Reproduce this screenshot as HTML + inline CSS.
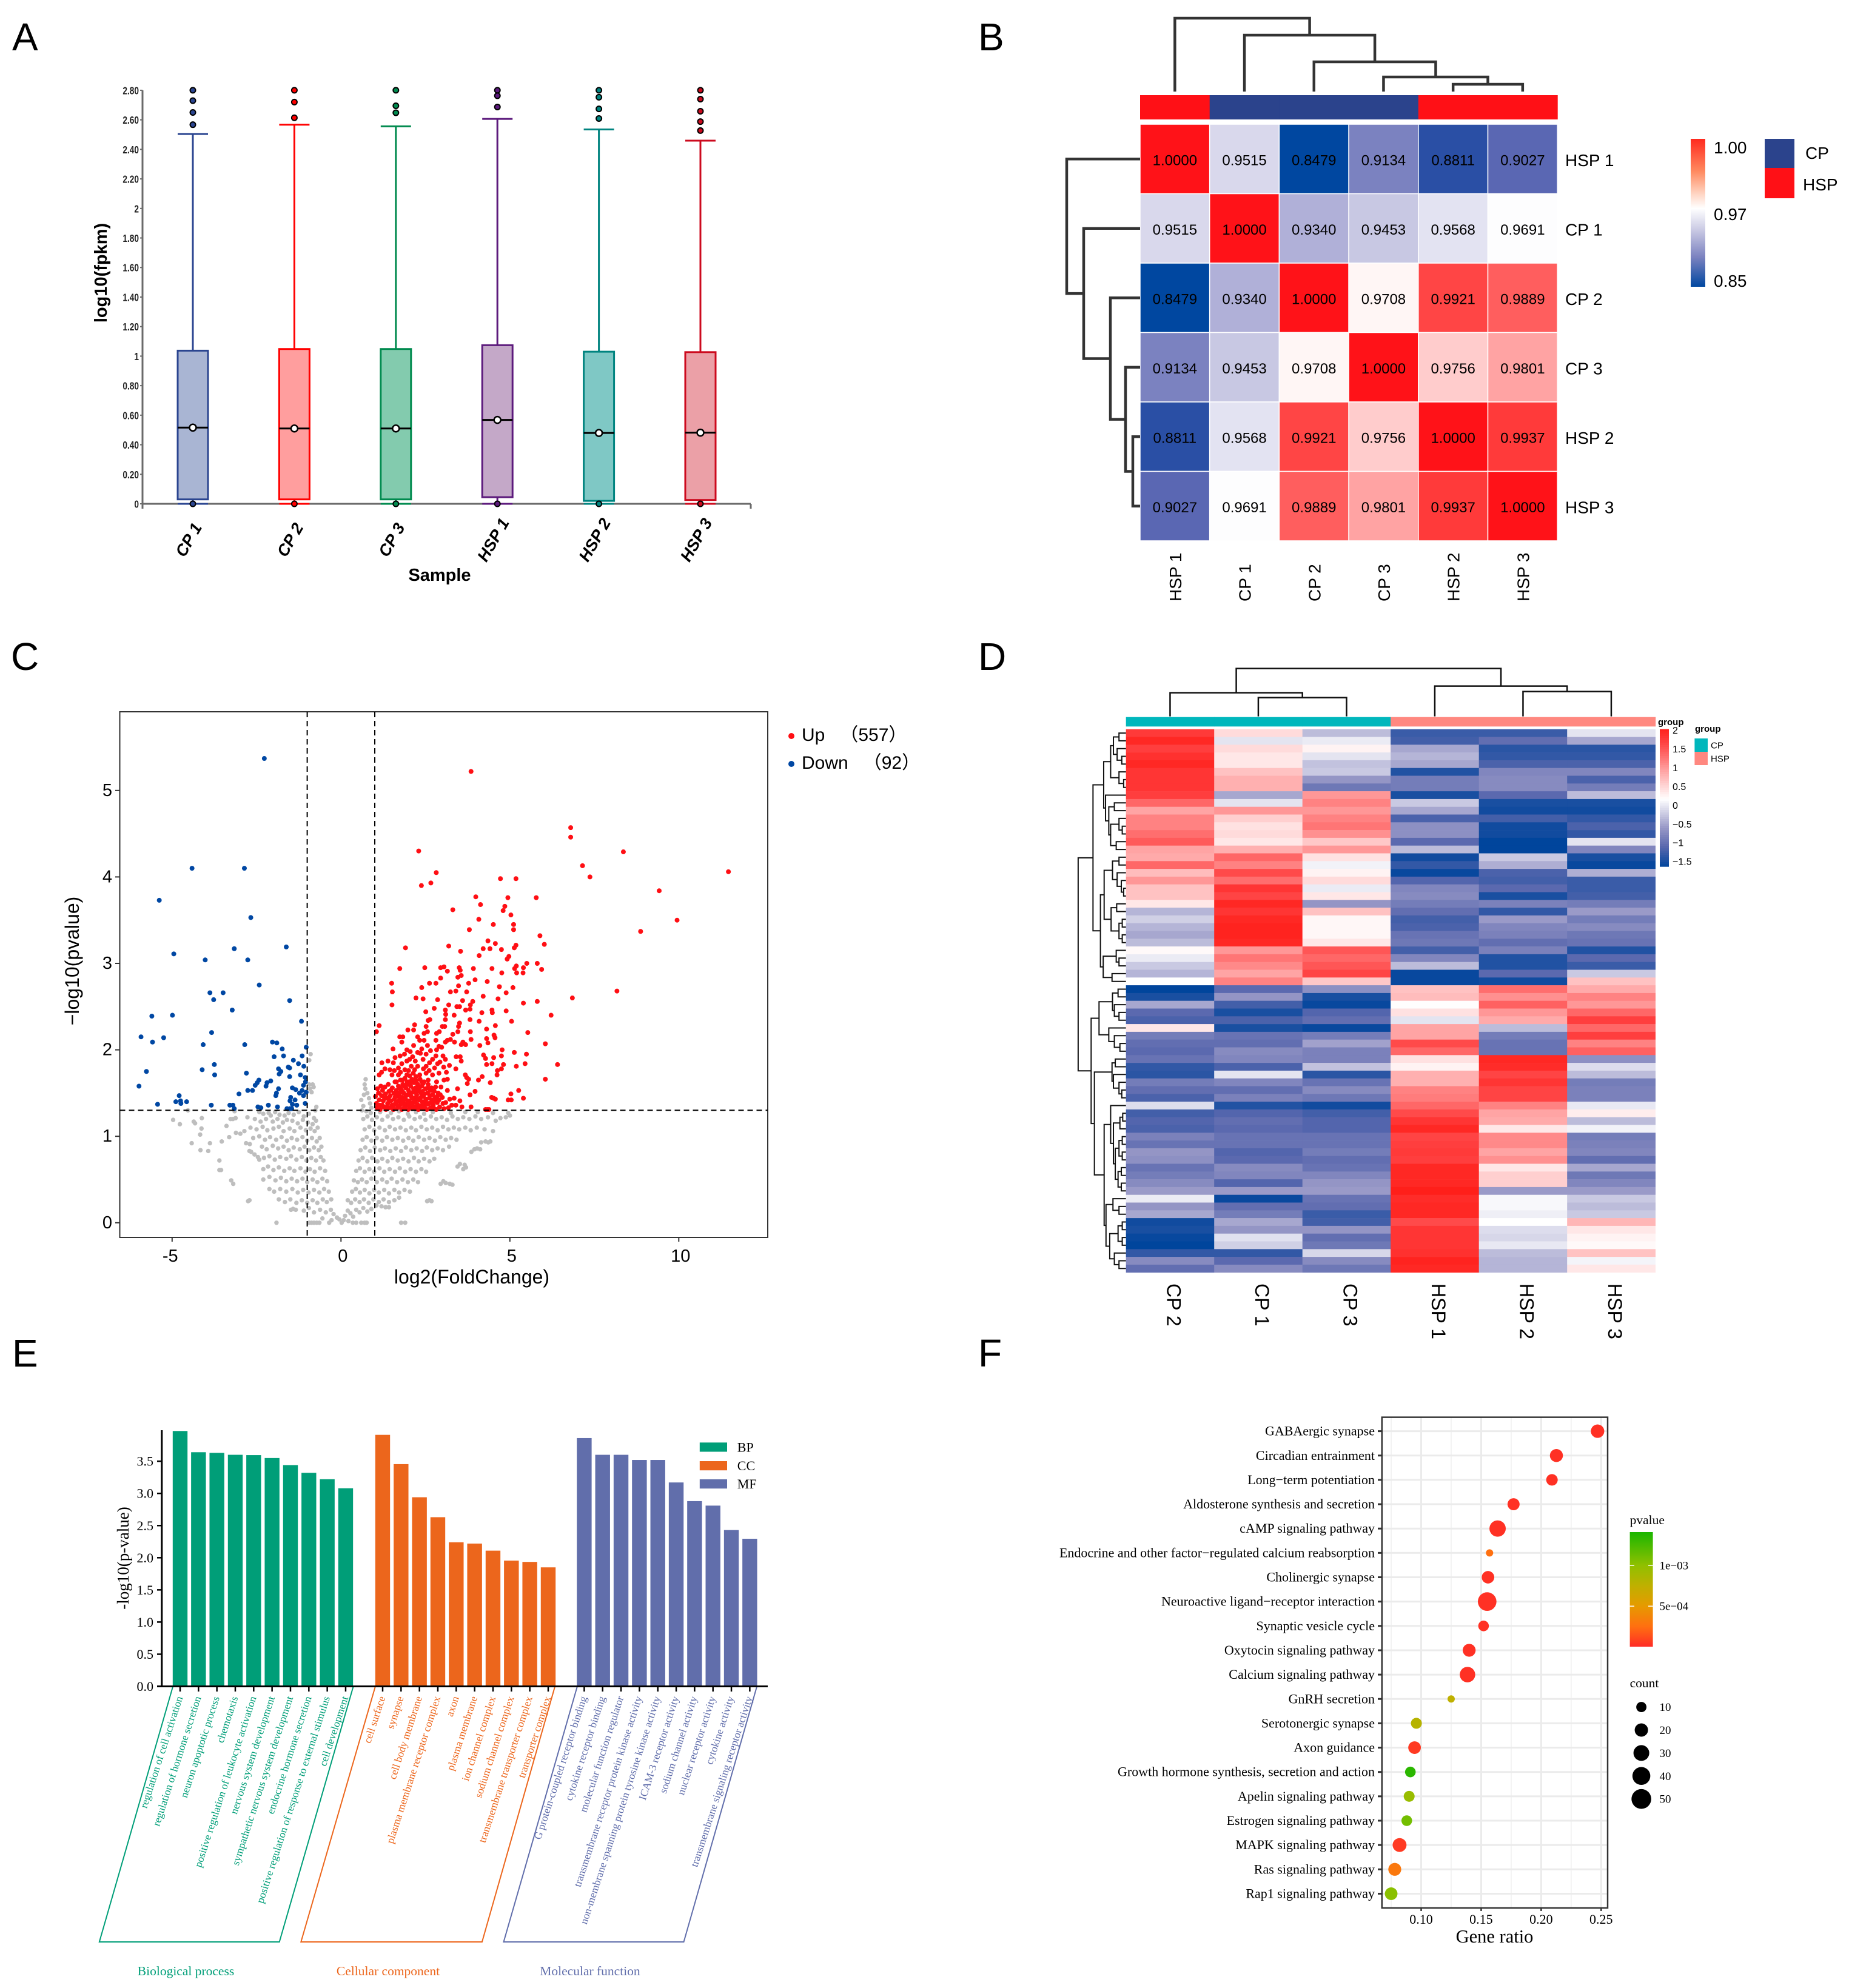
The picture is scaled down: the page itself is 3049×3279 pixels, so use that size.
<!DOCTYPE html>
<html lang="en">
<head>
<meta charset="utf-8">
<title>Multi-panel RNA-seq figure</title>
<style>
html,body{margin:0;padding:0;background:#fff;}
svg{display:block;}
text{font-family:"Liberation Sans",Arial,sans-serif;}
.serif text,text.serif{font-family:"Liberation Serif","Times New Roman",serif;}
</style>
</head>
<body>
<svg id="fig" xmlns="http://www.w3.org/2000/svg" width="3049" height="3279" viewBox="0 0 3049 3279">
<rect x="0" y="0" width="3049" height="3279" fill="#fff"/>
<defs id="defs"></defs>
<text x="20" y="83" font-size="64">A</text>
<text x="1613" y="83" font-size="64">B</text>
<text x="18" y="1105" font-size="64">C</text>
<text x="1613" y="1105" font-size="64">D</text>
<text x="20" y="2254" font-size="64">E</text>
<text x="1613" y="2254" font-size="64">F</text>
<g id="panelA"></g>
<g id="panelB"></g>
<g id="panelC"></g>
<g id="panelD"></g>
<g id="panelE" class="serif"></g>
<g id="panelF" class="serif"></g>
</svg>
<script>
/* ---------- Panel A data ---------- */
const boxSamples=['CP 1','CP 2','CP 3','HSP 1','HSP 2','HSP 3'];
const boxQ1=[0.03,0.03,0.03,0.045,0.02,0.026];
const boxMedian=[0.516,0.51,0.51,0.568,0.48,0.482];
const boxQ3=[1.037,1.048,1.048,1.074,1.03,1.027];
const boxWhiskerTop=[2.504,2.567,2.556,2.606,2.535,2.459];
const boxOutliers=[[2.8,2.73,2.65,2.567],[2.8,2.72,2.614],[2.8,2.695,2.648],[2.8,2.763,2.687],[2.8,2.753,2.674,2.609],[2.8,2.74,2.658,2.588,2.527]];
const boxStroke=['#2b4590','#ff0000','#008a4e','#5c1a7c','#00837f','#cc0a1e'];
const boxFill=['#a9b5d3','#ff9e9e','#83cbae','#c4a8c8','#7fc8c5','#eba0a7'];
const boxTickValues=[0,0.2,0.4,0.6,0.8,1,1.2,1.4,1.6,1.8,2,2.2,2.4,2.6,2.8];
const boxTickLabels=['0','0.20','0.40','0.60','0.80','1','1.20','1.40','1.60','1.80','2','2.20','2.40','2.60','2.80'];

/* ---------- Panel B data ---------- */
const corrLabels=['HSP 1','CP 1','CP 2','CP 3','HSP 2','HSP 3'];
const corrGroups=['HSP','CP','CP','CP','HSP','HSP'];
const corrMatrix=[
[1.0000,0.9515,0.8479,0.9134,0.8811,0.9027],
[0.9515,1.0000,0.9340,0.9453,0.9568,0.9691],
[0.8479,0.9340,1.0000,0.9708,0.9921,0.9889],
[0.9134,0.9453,0.9708,1.0000,0.9756,0.9801],
[0.8811,0.9568,0.9921,0.9756,1.0000,0.9937],
[0.9027,0.9691,0.9889,0.9801,0.9937,1.0000]];
const corrTree=[121,1,[93,1,[49,1,[24,1,[12,1,1]]]]];
const corrScale=[[0.8479,'#0047a0'],[0.8811,'#2a4fa5'],[0.9027,'#5a67b3'],[0.9134,'#7b82c0'],[0.934,'#b0b0d8'],[0.9453,'#c8c8e3'],[0.9515,'#d9d8ec'],[0.9568,'#e3e3f2'],[0.9691,'#fdfdfe'],[0.9708,'#fff6f5'],[0.9756,'#ffcccc'],[0.9801,'#ffa3a3'],[0.9889,'#ff5e5e'],[0.9921,'#ff4545'],[0.9937,'#ff3a3a'],[1,'#ff1218']];

/* ---------- Panel C data ---------- */
const volcanoXTicks=[-5,0,5,10];
const volcanoYTicks=[0,1,2,3,4,5];
const volcanoDown=[[-2.27,5.37],[-4.41,4.10],[-2.86,4.10],[-5.38,3.73],[-2.67,3.53],[-1.62,3.19],[-3.16,3.17],[-4.95,3.11],[-4.02,3.04],[-2.76,3.04],[-2.42,2.75],[-3.88,2.66],[-3.49,2.66],[-3.77,2.58],[-1.52,2.57],[-3.22,2.46],[-5.6,2.39],[-4.99,2.40],[-1.17,2.33],[-5.92,2.15],[-5.25,2.14],[-5.58,2.09],[-3.83,2.20],[-4.08,2.06],[-2.85,2.06],[-2.03,2.09],[-1.9,2.08],[-1.74,2.01],[-1.03,2.03],[-1.15,1.93],[-1.98,1.92],[-1.7,1.93],[-1.41,1.88],[-1.26,1.84],[-1.1,1.81],[-3.75,1.83],[-4.11,1.77],[-5.76,1.75],[-3.74,1.71],[-2.8,1.73],[-1.85,1.78],[-1.78,1.75],[-1.83,1.72],[-1.56,1.8],[-1.52,1.79],[-1.52,1.69],[-1.2,1.71],[-1.06,1.68],[-2.43,1.65],[-2.48,1.62],[-2.54,1.59],[-2.08,1.64],[-2.19,1.62],[-2.22,1.58],[-5.98,1.58],[-2.76,1.53],[-2.62,1.53],[-1.85,1.55],[-1.44,1.56],[-1.34,1.54],[-1.11,1.59],[-1.05,1.63],[-1.15,1.53],[-1.91,1.50],[-1.93,1.47],[-3.02,1.49],[-4.79,1.47],[-4.89,1.40],[-4.75,1.41],[-4.74,1.38],[-4.57,1.40],[-1.49,1.45],[-1.51,1.41],[-1.36,1.42],[-1.23,1.50],[-1.11,1.47],[-1.03,1.51],[-1.44,1.37],[-1.31,1.36],[-1.06,1.38],[-5.43,1.37],[-3.84,1.36],[-3.29,1.36],[-3.2,1.36],[-3.16,1.32],[-2.46,1.34],[-2.37,1.33],[-2.15,1.36],[-1.88,1.34],[-1.6,1.32],[-1.51,1.32],[-1.46,1.32]];
const volcanoUp=[[3.85,5.22],[6.8,4.57],[6.8,4.46],[8.36,4.29],[2.3,4.30],[2.82,4.05],[7.15,4.13],[7.37,4.0],[11.47,4.06],[4.72,3.98],[5.18,3.98],[2.38,3.9],[2.66,3.93],[3.99,3.77],[4.94,3.76],[5.78,3.76],[9.42,3.84],[4.13,3.68],[3.31,3.62],[4.85,3.66],[4.8,3.61],[5.03,3.56],[4.08,3.51],[4.51,3.45],[5.11,3.45],[5.11,3.39],[9.95,3.50],[3.8,3.39],[8.87,3.37],[5.89,3.32],[4.35,3.26],[4.57,3.23],[6.02,3.22],[3.19,3.2],[5.18,3.21],[5.13,3.18],[1.91,3.18],[4.21,3.17],[4.41,3.17],[4.75,3.16],[3.54,3.14],[4.09,3.09],[4.97,3.08],[4.92,3.05],[5.5,3.0],[5.81,3.0],[5.19,2.97],[5.14,2.94],[2.95,2.95],[3.05,2.96],[2.48,2.95],[1.74,2.94],[3.5,2.95],[3.53,2.92],[3.92,2.94],[4.47,2.94],[5.4,2.95],[5.94,2.93],[3.15,2.91],[5.2,2.89],[5.39,2.89],[4.76,2.89],[3.56,2.86],[3.46,2.84],[2.95,2.83],[3.97,2.81],[3.78,2.77],[4.33,2.79],[2.81,2.77],[2.62,2.77],[1.5,2.77],[3.48,2.74],[2.39,2.72],[4.69,2.73],[5.09,2.72],[1.52,2.67],[3.4,2.68],[3.24,2.67],[3.72,2.67],[4.89,2.66],[8.17,2.68],[6.85,2.6],[4.21,2.62],[2.22,2.6],[2.43,2.59],[4.65,2.59],[2.86,2.58],[3.6,2.57],[3.9,2.56],[5.4,2.54],[5.81,2.56],[1.51,2.52],[3.19,2.52],[3.83,2.52],[2.76,2.48],[3.43,2.5],[3.51,2.5],[3.82,2.47],[3.09,2.46],[3.69,2.46],[4.47,2.46],[4.89,2.45],[2.51,2.44],[3.1,2.41],[4.17,2.43],[4.48,2.43],[6.22,2.4],[3.35,2.4],[3.82,2.35],[2.63,2.35],[2.58,2.34],[3.09,2.35],[4.09,2.33],[5.05,2.33],[1.13,2.28],[2.18,2.29],[2.52,2.27],[3.51,2.31],[3.48,2.27],[3.0,2.27],[3.07,2.27],[4.57,2.28],[1.05,2.21],
[6.05,2.07],[6.41,1.83],[6.05,1.66],[5.53,2.2],[5.49,1.95],[5.45,1.84],[5.19,1.81],[5.13,1.97],[4.77,2.0],[4.75,1.93],[4.52,1.91],[4.22,1.94],[4.28,1.9],[4.31,1.83],[4.47,1.84],[4.81,1.83],[4.75,1.78],[4.63,1.76],[4.62,1.71],[4.42,1.62],[4.18,1.69],[4.07,1.65],[3.78,1.66],[3.68,1.71],[3.72,1.68],[3.74,1.61],[3.97,1.52],[3.82,1.48],[5.26,1.53],[5.03,1.49],[4.95,1.42],[5.4,1.44],[5.04,1.42],[4.46,1.45],[4.52,1.44],[4.57,1.43],[3.85,1.34],[4.28,1.31],[4.38,1.31],[4.33,1.31],[4.31,2.24],[4.53,2.17],[4.56,2.14],[4.31,2.13],[4.11,2.05],[4.35,2.08],[3.83,2.21],[3.85,2.12],[3.69,2.06],[3.56,2.06],[3.61,2.09],[3.53,1.92],[3.41,1.92],[3.56,1.87],[3.4,1.78],[3.21,1.82],[3.04,1.8],[3.36,2.09],[3.31,2.18],[3.46,2.21],[3.24,2.12],[3.15,2.11],[3.09,2.09],[2.98,2.03],[2.9,2.04],[2.83,2.0],[2.81,2.11],[2.83,2.19],[2.91,2.21],[2.56,2.21],[2.46,2.19],[2.27,2.15],[1.98,2.23],[2.15,2.23],[1.83,2.15],[1.74,2.15],[1.8,2.09],[1.54,2.01],[1.6,1.91],[1.75,1.93],[1.95,2.0],[2.05,1.98],[2.15,2.05],[2.33,2.11],[2.46,2.11],[2.56,2.05],[2.65,1.99],[2.39,2.01],[2.27,1.97],[2.52,1.95],[2.81,1.93],[3.02,1.93],[2.71,1.89],[2.93,1.86],[3.09,1.89],[2.43,1.89],[2.2,1.87],[1.95,1.87],[1.8,1.84],[1.39,1.87],[1.21,1.85],[1.55,1.85],[1.45,1.77],[1.3,1.78],[1.2,1.74],[1.13,1.71],[1.7,1.79],[1.89,1.77],[2.08,1.81],[2.27,1.81],[2.52,1.81],[2.77,1.79],[2.9,1.73],[2.71,1.71],[2.52,1.73],[2.33,1.71],[2.14,1.73],[1.95,1.71],[1.7,1.71],[1.51,1.71],[3.05,1.65],[3.15,1.66],[2.83,1.63],[2.58,1.65],[2.39,1.63],[2.2,1.65],[2.01,1.63],[1.82,1.65],[1.64,1.63],[2.62,1.85],[2.12,1.92],[1.88,1.95],[2.03,1.89],[2.35,1.96],[2.61,1.76],[2.44,1.78],[2.18,1.77],[2.0,1.76],[1.76,1.74],[1.58,1.76],[2.86,1.84],[3.12,1.74],
[1.02,1.46],[1.05,1.38],[1.07,1.33],[1.08,1.55],[1.11,1.5],[1.13,1.42],[1.15,1.36],[1.16,1.31],[1.18,1.58],[1.2,1.47],[1.23,1.53],[1.25,1.41],[1.27,1.34],[1.3,1.57],[1.32,1.49],[1.33,1.31],[1.36,1.44],[1.38,1.38],[1.4,1.6],[1.42,1.52],[1.44,1.33],[1.46,1.47],[1.48,1.41],[1.51,1.36],[1.52,1.56],[1.55,1.31],[1.57,1.5],[1.58,1.43],[1.6,1.63],[1.62,1.38],[1.64,1.53],[1.66,1.46],[1.67,1.33],[1.7,1.58],[1.72,1.41],[1.73,1.49],[1.75,1.36],[1.76,1.65],[1.78,1.54],[1.8,1.31],[1.81,1.45],[1.83,1.6],[1.84,1.39],[1.86,1.5],[1.88,1.34],[1.89,1.67],[1.91,1.43],[1.92,1.56],[1.94,1.37],[1.96,1.63],[1.97,1.48],[1.99,1.31],[2.0,1.53],[2.02,1.41],[2.03,1.7],[2.05,1.35],[2.06,1.58],[2.08,1.46],[2.1,1.66],[2.11,1.32],[2.13,1.51],[2.14,1.39],[2.16,1.62],[2.18,1.44],[2.19,1.34],[2.21,1.56],[2.22,1.69],[2.24,1.48],[2.26,1.37],[2.27,1.6],[2.29,1.31],[2.3,1.53],[2.32,1.42],[2.34,1.66],[2.35,1.35],[2.37,1.5],[2.39,1.58],[2.4,1.4],[2.42,1.32],[2.44,1.46],[2.46,1.63],[2.48,1.36],[2.5,1.55],[2.52,1.43],[2.54,1.31],[2.56,1.5],[2.58,1.6],[2.6,1.38],[2.63,1.47],[2.65,1.33],[2.68,1.56],[2.7,1.42],[2.73,1.36],[2.76,1.52],[2.79,1.44],[2.82,1.31],[2.85,1.39],[2.88,1.5],[2.92,1.34],[2.96,1.57],[3.0,1.45],[3.05,1.32],[3.1,1.39],[3.15,1.53],[3.22,1.43],[3.28,1.36],[3.35,1.44],[3.4,1.36],[3.45,1.55],[3.52,1.41],[3.58,1.34],
[1.1,1.34],[1.22,1.36],[1.29,1.44],[1.35,1.34],[1.41,1.43],[1.47,1.53],[1.53,1.33],[1.59,1.37],[1.61,1.46],[1.65,1.4],[1.69,1.5],[1.71,1.35],[1.74,1.56],[1.77,1.44],[1.79,1.38],[1.82,1.52],[1.85,1.42],[1.87,1.58],[1.9,1.33],[1.93,1.47],[1.95,1.6],[1.98,1.4],[2.01,1.36],[2.04,1.49],[2.07,1.62],[2.09,1.37],[2.12,1.44],[2.15,1.55],[2.17,1.33],[2.2,1.41],[2.23,1.64],[2.25,1.52],[2.28,1.43],[2.31,1.35],[2.33,1.57],[2.36,1.45],[2.38,1.33],[2.41,1.52],[2.43,1.61],[2.45,1.38],[2.47,1.49],[2.49,1.32],[2.51,1.42],[2.55,1.37],[2.57,1.56],[2.61,1.44],[2.64,1.53],[2.67,1.39],[2.71,1.48],[2.74,1.33],[2.77,1.41],[2.8,1.57],[2.84,1.46],[2.9,1.42],[2.94,1.48],[3.02,1.38],[3.18,1.33]];
const volcanoNS=[[-0.94,1.88],[-0.9,1.95],[-0.84,1.6],[-0.94,1.6],[-0.81,1.57],[-0.92,1.55],[-0.87,1.51],[-0.73,1.34],[-0.76,1.3],[-4.53,1.3],[-4.97,1.19],[-4.77,1.14],[-4.36,1.17],[-4.32,1.15],[-4.12,1.21],[-4.13,1.09],[-4.17,1.02],[-4.42,0.92],[-4.16,0.84],[-3.93,0.83],[-3.88,0.92],[-3.53,0.94],[-3.31,0.99],[-3.39,1.12],[-3.27,1.2],[-3.2,1.2],[-3.12,1.21],[-3.11,1.04],[-2.98,1.03],[-2.86,1.06],[-2.77,1.22],[-2.81,0.92],[-2.7,0.91],[-2.71,0.83],[-2.66,0.82],[-2.56,0.79],[-2.46,0.76],[-2.42,0.73],[-3.6,0.72],[-3.6,0.61],[-3.55,0.61],[-3.25,0.49],[-3.19,0.45],[-2.75,0.25],[-2.71,0.26],[-1.91,0],
[-3.15,1.29],[-2.42,1.28],[-2.3,1.26],[-2.14,1.27],[-2.08,1.24],[-1.95,1.28],[-1.82,1.25],[-1.67,1.24],[-1.55,1.27],[-1.4,1.25],[-1.25,1.28],[-1.1,1.23],[-0.95,1.26],[-0.8,1.21],
[-2.55,1.2],[-2.38,1.17],[-2.22,1.2],[-2.02,1.17],[-1.88,1.2],[-1.72,1.16],[-1.6,1.19],[-1.44,1.18],[-1.28,1.15],[-1.13,1.19],[-0.98,1.16],[-0.84,1.14],[-0.74,1.18],
[-2.68,1.1],[-2.5,1.08],[-2.32,1.11],[-2.18,1.07],[-2.0,1.09],[-1.84,1.11],[-1.7,1.06],[-1.52,1.09],[-1.38,1.06],[-1.2,1.1],[-1.04,1.07],[-0.9,1.09],[-0.78,1.06],[-0.69,1.1],
[-2.6,0.98],[-2.42,1.0],[-2.25,0.96],[-2.1,0.99],[-1.92,0.96],[-1.76,0.99],[-1.6,0.95],[-1.46,0.98],[-1.3,0.96],[-1.14,0.99],[-1.0,0.95],[-0.86,0.98],[-0.72,0.94],[-0.63,0.98],
[-2.34,0.88],[-2.2,0.85],[-2.02,0.89],[-1.86,0.86],[-1.7,0.88],[-1.55,0.84],[-1.4,0.87],[-1.22,0.85],[-1.08,0.88],[-0.94,0.84],[-0.8,0.87],[-0.66,0.84],[-0.58,0.88],
[-2.28,0.75],[-2.12,0.77],[-1.96,0.73],[-1.8,0.76],[-1.62,0.74],[-1.48,0.77],[-1.32,0.73],[-1.16,0.76],[-1.02,0.72],[-0.88,0.75],[-0.74,0.72],[-0.6,0.76],[-0.52,0.72],
[-2.3,0.62],[-2.16,0.65],[-2.0,0.61],[-1.84,0.64],[-1.68,0.6],[-1.52,0.63],[-1.38,0.6],[-1.2,0.63],[-1.05,0.59],[-0.92,0.62],[-0.78,0.59],[-0.62,0.63],[-0.47,0.6],
[-2.3,0.5],[-2.12,0.53],[-1.94,0.49],[-1.78,0.52],[-1.62,0.48],[-1.46,0.51],[-1.3,0.48],[-1.14,0.51],[-1.0,0.47],[-0.84,0.5],[-0.7,0.47],[-0.55,0.51],[-0.41,0.48],
[-2.12,0.39],[-1.98,0.36],[-1.8,0.39],[-1.62,0.36],[-1.44,0.39],[-1.28,0.35],[-1.12,0.38],[-0.96,0.35],[-0.8,0.38],[-0.64,0.35],[-0.5,0.39],[-0.36,0.36],
[-1.84,0.27],[-1.66,0.24],[-1.5,0.27],[-1.32,0.23],[-1.16,0.26],[-1.0,0.23],[-0.84,0.26],[-0.7,0.23],[-0.54,0.27],[-0.42,0.24],[-0.29,0.27],
[-1.48,0.15],[-1.42,0.16],[-1.34,0.15],[-1.1,0.14],[-0.95,0.17],[-0.8,0.12],[-0.62,0.15],[-0.45,0.12],[-0.3,0.15],[-0.22,0.1],[-0.12,0.06],[-0.05,0.04],
[-0.94,0],[-0.87,0],[-0.8,0],[-0.72,0],[-0.64,0],[-0.35,0],[-0.55,0.05],[-0.28,0.03],[0.02,0],[0.08,0.03],[0.22,0.02],[0.35,0],[0.45,0],[0.6,0],[0.7,0],[0.76,0],[1.78,0],[1.9,0],
[0.12,0.08],[0.2,0.14],[0.28,0.11],[0.36,0.07],[0.45,0.15],[0.55,0.12],[0.66,0.17],[0.78,0.13],[0.9,0.16],[1.05,0.2],[1.2,0.19],[1.32,0.18],[1.42,0.18],
[0.2,0.26],[0.3,0.23],[0.42,0.27],[0.55,0.24],[0.68,0.27],[0.82,0.23],[0.96,0.27],[1.12,0.24],[1.26,0.27],[1.42,0.24],[1.58,0.26],[1.72,0.29],[2.55,0.25],[2.62,0.26],[2.68,0.25],
[0.33,0.36],[0.44,0.39],[0.56,0.35],[0.7,0.38],[0.84,0.34],[0.98,0.38],[1.12,0.35],[1.28,0.38],[1.42,0.34],[1.58,0.38],[1.72,0.35],[1.88,0.38],[2.04,0.36],
[0.38,0.49],[0.5,0.47],[0.62,0.5],[0.76,0.47],[0.9,0.51],[1.06,0.47],[1.22,0.5],[1.36,0.47],[1.5,0.51],[1.66,0.47],[1.82,0.5],[1.98,0.47],[2.14,0.5],[2.28,0.47],[2.95,0.45],[3.03,0.48],[3.1,0.46],[3.22,0.45],[3.3,0.44],
[0.45,0.6],[0.56,0.63],[0.7,0.59],[0.84,0.62],[0.98,0.59],[1.14,0.63],[1.28,0.59],[1.44,0.62],[1.6,0.59],[1.74,0.63],[1.9,0.59],[2.06,0.62],[2.22,0.59],[2.38,0.62],[2.52,0.59],
[0.52,0.72],[0.64,0.75],[0.78,0.71],[0.92,0.75],[1.08,0.71],[1.22,0.74],[1.38,0.71],[1.52,0.75],[1.68,0.72],[1.84,0.74],[2.0,0.71],[2.16,0.75],[2.3,0.71],[2.46,0.74],[2.62,0.71],[2.76,0.74],[3.45,0.65],[3.52,0.68],[3.62,0.62],[3.66,0.67],[3.7,0.64],
[0.58,0.84],[0.72,0.87],[0.86,0.83],[1.0,0.87],[1.16,0.84],[1.3,0.86],[1.46,0.83],[1.62,0.86],[1.78,0.83],[1.92,0.87],[2.08,0.84],[2.24,0.86],[2.4,0.83],[2.54,0.87],[2.7,0.84],[2.86,0.86],[3.02,0.84],[3.2,0.88],[3.86,0.82],[3.95,0.85],[4.03,0.86],[4.12,0.85],
[0.64,0.96],[0.76,0.99],[0.9,0.95],[1.06,0.98],[1.22,0.95],[1.36,0.99],[1.52,0.96],[1.68,0.98],[1.84,0.95],[2.0,0.98],[2.14,0.95],[2.3,0.99],[2.46,0.96],[2.62,0.98],[2.78,0.95],[2.94,0.99],[3.1,0.96],[3.26,0.98],[3.42,0.96],[4.15,0.93],[4.28,0.94],[4.36,0.93],[4.42,0.94],
[0.7,1.08],[0.84,1.11],[0.98,1.07],[1.14,1.1],[1.3,1.07],[1.44,1.11],[1.6,1.08],[1.76,1.1],[1.92,1.07],[2.08,1.1],[2.22,1.07],[2.38,1.11],[2.54,1.08],[2.7,1.1],[2.86,1.07],[3.02,1.11],[3.18,1.08],[3.34,1.1],[3.5,1.08],[3.68,1.1],[3.84,1.07],[4.02,1.1],[4.25,1.08],[4.5,1.06],
[0.66,1.2],[0.78,1.23],[0.92,1.19],[1.06,1.22],[1.22,1.19],[1.38,1.23],[1.54,1.2],[1.7,1.22],[1.86,1.19],[2.02,1.23],[2.18,1.2],[2.34,1.22],[2.5,1.19],[2.66,1.23],[2.82,1.2],[2.98,1.22],[3.14,1.19],[3.3,1.23],[3.46,1.2],[3.62,1.22],[3.8,1.2],[3.98,1.23],[4.15,1.2],[4.35,1.22],[4.58,1.18],[4.72,1.21],[4.88,1.22],
[0.75,1.29],[0.88,1.27],[1.16,1.28],[1.48,1.27],[1.72,1.29],[1.98,1.26],[2.22,1.28],[2.46,1.26],[2.72,1.28],[3.25,1.27],[3.68,1.28],[4.05,1.28],[4.5,1.27],[4.95,1.27],[5.0,1.24],
[0.62,1.3],[0.66,1.35],[0.6,1.42],[0.68,1.48],[0.72,1.55],[0.7,1.6],[0.73,1.66],[0.78,1.5],[0.83,1.44],[0.86,1.38],[0.9,1.33]];

/* ---------- Panel D data ---------- */
const geneSamples=['CP 2','CP 1','CP 3','HSP 1','HSP 2','HSP 3'];
const geneGroups=['CP','CP','CP','HSP','HSP','HSP'];
const geneZ=[
[1.8,.5,-.3,-1.25,-1.25,0],[2.0,0,.05,-1.2,-1.0,-.45],[1.75,.5,.3,-.45,-1.35,-1.35],[1.9,.4,0,-.35,-1.3,-1.3],[2.0,.4,-.25,-.45,-1.15,-1.15],[1.85,.7,-.2,-1.4,-.75,-.75],[1.85,.85,-.6,-.85,-.7,-1.15],[1.85,.85,-.9,-.85,-.7,-.85],[1.75,-.45,1.05,-1.45,-1.05,-.3],[1.4,0,1.2,-.2,-1.45,-1.45],
[.95,1.05,1.05,-.45,-1.5,-1.5],[1.2,.6,1.2,-1.15,-1.2,-1.3],[1.2,.45,1.3,-.65,-1.5,-1.15],[1.35,.5,1.1,-.65,-1.5,-1.3],[1.5,.4,.65,-1.05,-1.6,0],[.95,.85,1.05,-.3,-1.6,-.75],[.9,1.4,.45,-1.5,-.2,-1.45],[1.4,1.2,.1,-1.3,-.4,-1.55],[.75,1.65,.3,-1.55,-1.15,-.4],[1.05,1.35,.5,-1.1,-1.2,-1.25],
[.7,1.85,.05,-.75,-1.05,-1.25],[.7,1.7,.4,-.7,-1.45,-1.2],[.4,2.0,-.6,-.85,-.8,-.85],[-.35,1.85,.7,-1.0,-1.3,-.55],[-.15,2.0,.27,-1.2,-.55,-.85],[-.35,2.05,.27,-1.15,-.75,-.7],[-.45,2.05,.27,-.95,-.8,-.9],[-.3,2.0,.4,-.9,-1.0,-.95],[.25,1.05,1.55,-1.2,-.8,-1.4],[.05,1.3,1.4,-.75,-1.4,-1.05],
[-.2,1.15,1.55,-.3,-1.4,-1.25],[-.35,.95,1.7,-1.55,-1.05,-.2],[.2,1.2,.65,-1.55,-1.5,.7],[-1.6,-1.05,-.65,.7,1.35,.9],[-1.45,-.6,-1.45,.75,1.1,1.2],[-.45,-1.2,-1.55,.22,1.45,1.05],[-1.05,-1.45,-1.1,.45,1.05,1.4],[-1.15,-1.15,-1.0,0,.9,1.75],[.4,-1.45,-1.55,.95,-.3,1.4],[-.85,-.95,-.85,.95,-.85,1.75],
[-1.0,-1.0,-.5,1.65,-.95,1.2],[-1.05,-.7,-.8,1.4,-.95,1.45],[-.95,-.75,-.8,.45,2.0,-.65],[-1.3,-1.15,-.25,.3,1.95,-.05],[-1.35,0,-1.35,.85,1.7,-.3],[-.85,-.75,-.95,.85,1.85,-.85],[-1.0,-1.0,-.7,1.2,1.7,-.8],[-1.15,-.8,-.9,1.25,1.7,-.8],[-.05,-1.4,-1.5,1.4,1.2,.03],[-1.2,-1.1,-1.2,1.65,.95,.35],
[-1.1,-1.0,-1.1,1.85,.9,-.3],[-1.15,-1.05,-1.1,2.0,.4,.1],[-.8,-.95,-.95,1.7,1.15,-.85],[-.95,-.95,-.95,1.75,1.15,-.8],[-.6,-1.1,-.85,1.8,.95,-.75],[-.65,-1.05,-1.0,1.75,1.1,-1.0],[-.95,-.7,-.95,2.0,.4,-.45],[-.85,-.75,-.75,2.0,.6,-.9],[-.7,-1.1,-.6,2.0,.6,-.75],[-.55,-.55,-.55,2.1,-.55,-.55],
[.05,-1.55,-.95,1.95,.15,-.2],[-.6,-1.0,-1.0,2.0,.15,-.3],[-.45,-.85,-1.25,2.0,.08,-.2],[-1.5,-.45,-1.2,1.65,.2,.8],[-1.45,-.6,-.6,1.85,-.05,.4],[-1.55,-.02,-1.0,1.85,-.1,.3],[-1.6,-.15,-.9,1.85,.03,.25],[-1.3,-1.3,-.1,1.9,-.3,.7],[-.7,-1.05,-.7,2.05,-.35,.12],[-1.0,-.7,-.9,2.0,-.35,.4]];
const geneColTree=[79,[39,1,[31,1,1]],[50,1,[41,1,1]]];
const geneRowTree=[103,
 [71,
  [48,[33,[27,[15,1,1],[19,1,[9,1,1]]],[15,1,[5,1,1]]],[44,1,[37,[25,1,1],[33,[15,1,[8,1,1]],[21,1,1]]]]],
  [55,[47,[29,[15,1,1],[19,1,[10,1,[5,1,1]]]],[32,[20,1,1],[15,[8,1,1],[8,1,1]]]],[49,[21,1,[15,1,1]],[30,1,1]]]],
 [75,
  [58,[29,[17,1,1],[25,1,[15,1,1]]],[37,1,[25,1,[13,1,1]]]],
  [68,[30,[23,1,1],[27,1,[15,1,[9,1,1]]]],
   [47,[33,1,[27,[13,[7,1,1],1],[23,[15,[8,1,1],[8,1,1]],[17,[10,1,1],[10,1,1]]]]],
       [43,[28,1,[15,1,1]],[35,[17,[8,1,1],[8,1,1]],[25,1,[15,1,1]]]]]]]];
const geneScale=[[-1.6,'#00459c'],[-1.06,'#5a68ae'],[-.55,'#9a9ac8'],[.2,'#ffffff'],[1.0,'#ff9e9e'],[1.37,'#ff6b6b'],[1.73,'#ff4040'],[2.1,'#ff1f1a']];
const geneBarLabels=['2','1.5','1','0.5','0','−0.5','−1','−1.5'];
const geneBarValues=[2,1.5,1,0.5,0,-0.5,-1,-1.5];

/* ---------- Panel E data ---------- */
const goBP=[3.97,3.64,3.63,3.60,3.595,3.55,3.44,3.32,3.22,3.08];
const goCC=[3.91,3.455,2.94,2.63,2.24,2.22,2.11,1.955,1.935,1.85];
const goMF=[3.86,3.60,3.60,3.52,3.52,3.17,2.88,2.81,2.43,2.295];
const goBPTerms=['regulation of cell activation','regulation of hormone secretion','neuron apoptotic process','chemotaxis','positive regulation of leukocyte activation','nervous system development','sympathetic nervous system development','endocrine hormone secretion','positive regulation of response to external stimulus','cell development'];
const goCCTerms=['cell surface','synapse','cell body membrane','plasma membrane receptor complex','axon','plasma membrane','ion channel complex','sodium channel complex','transmembrane transporter complex','transporter complex'];
const goMFTerms=['G protein-coupled receptor binding','cytokine receptor binding','molecular function regulator','transmembrane receptor protein kinase activity','non-membrane spanning protein tyrosine kinase activity','ICAM-3 receptor activity','sodium channel activity','nuclear receptor activity','cytokine activity','transmembrane signaling receptor activity'];
const goTicks=[0,0.5,1,1.5,2,2.5,3,3.5];

/* ---------- Panel F data ---------- */
const keggTerms=['GABAergic synapse','Circadian entrainment','Long−term potentiation','Aldosterone synthesis and secretion','cAMP signaling pathway','Endocrine and other factor−regulated calcium reabsorption','Cholinergic synapse','Neuroactive ligand−receptor interaction','Synaptic vesicle cycle','Oxytocin signaling pathway','Calcium signaling pathway','GnRH secretion','Serotonergic synapse','Axon guidance','Growth hormone synthesis, secretion and action','Apelin signaling pathway','Estrogen signaling pathway','MAPK signaling pathway','Ras signaling pathway','Rap1 signaling pathway'];
const keggRatio=[.247,.2127,.209,.177,.1637,.157,.1557,.155,.152,.14,.1386,.125,.096,.0945,.091,.09,.088,.082,.078,.075];
const keggCount=[24,22.5,17,19,37,5,20.6,49,14,22,33,5,15,21,14,15,14,26,22,21];
const keggP=[2e-5,2e-5,2e-5,2e-5,2e-5,2.5e-4,2e-5,2e-5,2e-5,2e-5,2e-5,7.5e-4,8e-4,5e-5,1.35e-3,9.5e-4,1.1e-3,5e-5,3e-4,1.02e-3];
const keggXTicks=[.10,.15,.20,.25];
const keggXMinor=[.075,.125,.175,.225];
const keggCountLegend=[10,20,30,40,50];
const keggPScale=[[0,'#ff2c26'],[2.5e-4,'#ff7010'],[5e-4,'#e69a00'],[7.5e-4,'#bfb000'],[1e-3,'#90c000'],[1.41e-3,'#1ab600']];

/* ---------- helpers ---------- */
const NS='http://www.w3.org/2000/svg';
function mk(parent,type,attrs,name,text){
  const el=document.createElementNS(NS,type);
  for(const k in attrs){el.setAttribute(k,attrs[k]);}
  
  
  if(text!==undefined){el.textContent=text;}
  parent.appendChild(el);
  return el;
}
function hex(c){return [parseInt(c.slice(1,3),16),parseInt(c.slice(3,5),16),parseInt(c.slice(5,7),16)];}
function scaleColor(stops,v){
  if(v<=stops[0][0])return stops[0][1];
  for(let i=1;i<stops.length;i++){
    if(v<=stops[i][0]){
      const t=(v-stops[i-1][0])/(stops[i][0]-stops[i-1][0]);
      const a=hex(stops[i-1][1]),b=hex(stops[i][1]);
      return 'rgb('+a.map((x,j)=>Math.round(x+(b[j]-x)*t)).join(',')+')';
    }
  }
  return stops[stops.length-1][1];
}
/* draws a dendrogram: pos(i)=leaf position, toPoint(pos,h)=[x,y] */
function dendro(parent,tree,pos,toPoint,stroke,width,name){
  let leaf=0;
  function walk(n){
    if(n===1){const p=pos(leaf);leaf++;return {p:p,h:0};}
    const a=walk(n[1]),b=walk(n[2]);
    const pts=[toPoint(a.p,a.h),toPoint(a.p,n[0]),toPoint(b.p,n[0]),toPoint(b.p,b.h)];
    mk(parent,'polyline',{points:pts.map(q=>q.join(',')).join(' '),fill:'none',stroke:stroke,'stroke-width':width},name);
    return {p:(a.p+b.p)/2,h:n[0]};
  }
  walk(tree);
}

/* ---------- Panel A ---------- */
(function(){
  const g=document.getElementById('panelA');
  const xA=i=>318+i*167.4, yA=v=>831-v*243.6;
  mk(g,'path',{d:'M235 149V839M235 831H1238M1238 831V839',fill:'none',stroke:'#6a6a6a','stroke-width':3},'boxplot-axes');
  boxTickValues.forEach((v,i)=>{
    mk(g,'line',{x1:235,x2:231,y1:yA(v),y2:yA(v),stroke:'#6a6a6a','stroke-width':2},'y-tick');
    mk(g,'text',{transform:'translate(229,'+(yA(v)+6.5)+') scale(.76,1)','text-anchor':'end','font-size':18,'font-weight':'bold',fill:'#222'},'y-tick-label',boxTickLabels[i]);
  });
  boxSamples.forEach((s,i)=>{
    const x=xA(i),c=boxStroke[i],f=boxFill[i];
    mk(g,'line',{x1:x,x2:x,y1:yA(boxWhiskerTop[i]),y2:yA(boxQ3[i]),stroke:c,'stroke-width':3},'whisker-upper');
    mk(g,'line',{x1:x-25,x2:x+25,y1:yA(boxWhiskerTop[i]),y2:yA(boxWhiskerTop[i]),stroke:c,'stroke-width':3},'whisker-cap');
    mk(g,'line',{x1:x,x2:x,y1:yA(boxQ1[i]),y2:yA(0),stroke:c,'stroke-width':3},'whisker-lower');
    mk(g,'line',{x1:x-25,x2:x+25,y1:yA(0),y2:yA(0),stroke:c,'stroke-width':3},'whisker-cap-lower');
    mk(g,'rect',{x:x-25,y:yA(boxQ3[i]),width:50,height:yA(boxQ1[i])-yA(boxQ3[i]),fill:f,stroke:c,'stroke-width':3},'box');
    mk(g,'line',{x1:x-25,x2:x+25,y1:yA(boxMedian[i]),y2:yA(boxMedian[i]),stroke:'#000','stroke-width':3},'median-line');
    mk(g,'circle',{cx:x,cy:yA(boxMedian[i]),r:5.5,fill:'#fff',stroke:'#000','stroke-width':2.5},'mean-marker');
    boxOutliers[i].forEach(v=>{
      mk(g,'circle',{cx:x,cy:yA(v),r:4.5,fill:c,stroke:'#000','stroke-width':2},'outlier');
    });
    mk(g,'circle',{cx:x,cy:yA(0),r:4.5,fill:c,stroke:'#000','stroke-width':2},'outlier-low');
    mk(g,'text',{transform:'translate('+(x+1)+',895) rotate(-60)','text-anchor':'middle','font-size':27,'font-weight':'bold','font-style':'italic'},'x-tick-label',s);
  });
  mk(g,'text',{transform:'translate(176,450) rotate(-90)','text-anchor':'middle','font-size':29,'font-weight':'bold'},'y-axis-title','log10(fpkm)');
  mk(g,'text',{x:725,y:958,'text-anchor':'middle','font-size':29,'font-weight':'bold'},'x-axis-title','Sample');
})();

/* ---------- Panel B ---------- */
(function(){
  const g=document.getElementById('panelB');
  const x0=1880,y0=205,cw=114.7,ch=114.5;
  const cx=i=>x0+(i+.5)*cw, cy=i=>y0+(i+.5)*ch;
  const groupColor={CP:'#2b438c',HSP:'#ff1016'};
  corrGroups.forEach((k,i)=>{
    mk(g,'rect',{x:x0+i*cw,y:157,width:cw+.5,height:40,fill:groupColor[k]},'column-annotation');
  });
  corrMatrix.forEach((row,r)=>row.forEach((v,c)=>{
    mk(g,'rect',{x:x0+c*cw,y:y0+r*ch,width:cw,height:ch,fill:scaleColor(corrScale,v),stroke:'#fff','stroke-width':1.5},'heatmap-cell');
    mk(g,'text',{x:cx(c),y:cy(r)+10,'text-anchor':'middle','font-size':24,fill:'#000'},'cell-value',v.toFixed(4));
  }));
  corrLabels.forEach((s,i)=>{
    mk(g,'text',{x:2581,y:cy(i)+11.5,'font-size':28},'row-label',s);
    mk(g,'text',{transform:'translate('+(cx(i)+10.5)+',992) rotate(-90)','font-size':28},'column-label',s);
  });
  dendro(g,corrTree,cx,(p,h)=>[p,151-h],'#333',4.5,'column-dendrogram-branch');
  dendro(g,corrTree,cy,(p,h)=>[x0-h,p],'#333',4.5,'row-dendrogram-branch');
  const defs=document.getElementById('defs');
  const lg=mk(defs,'linearGradient',{id:'corrBar',x1:0,y1:0,x2:0,y2:1},'correlation-gradient');
  [[0,'#ff2a1e'],[.22,'#ff8a60'],[.38,'#ffd8c8'],[.47,'#ffffff'],[.62,'#c8c8e3'],[.8,'#7b82c0'],[1,'#0047a0']].forEach(s=>{
    mk(lg,'stop',{offset:s[0],'stop-color':s[1]},'gradient-stop');
  });
  mk(g,'rect',{x:2788,y:229,width:24,height:244,fill:'url(#corrBar)'},'correlation-colorbar');
  mk(g,'text',{x:2826,y:253,'font-size':28},'colorbar-label','1.00');
  mk(g,'text',{x:2826,y:363,'font-size':28},'colorbar-label','0.97');
  mk(g,'text',{x:2826,y:473,'font-size':28},'colorbar-label','0.85');
  mk(g,'rect',{x:2910,y:229,width:49,height:48,fill:'#2b438c'},'legend-swatch-cp');
  mk(g,'rect',{x:2910,y:277,width:49,height:50,fill:'#ff1016'},'legend-swatch-hsp');
  mk(g,'text',{x:2977,y:262,'font-size':28},'legend-label-cp','CP');
  mk(g,'text',{x:2973,y:314,'font-size':28},'legend-label-hsp','HSP');
})();

/* ---------- Panel C ---------- */
(function(){
  const g=document.getElementById('panelC');
  const xC=v=>562.3+v*55.7, yC=v=>2016.8-v*142.6;
  mk(g,'rect',{x:197.5,y:1174,width:1068.5,height:867,fill:'#fff',stroke:'#333','stroke-width':2},'plot-frame');
  volcanoNS.forEach(p=>{
    mk(g,'circle',{cx:xC(p[0]),cy:yC(p[1]),r:3.7,fill:'#bebebe'},'point-not-significant');
  });
  volcanoDown.forEach(p=>{
    mk(g,'circle',{cx:xC(p[0]),cy:yC(p[1]),r:4,fill:'#0047a3'},'point-down');
  });
  volcanoUp.forEach(p=>{
    mk(g,'circle',{cx:xC(p[0]),cy:yC(p[1]),r:4,fill:'#ff0f14'},'point-up');
  });
  [-1,1].forEach(v=>{
    mk(g,'line',{x1:xC(v),x2:xC(v),y1:1174,y2:2041,stroke:'#000','stroke-width':2,'stroke-dasharray':'9 6'},'foldchange-threshold');
  });
  mk(g,'line',{x1:197.5,x2:1266,y1:yC(1.301),y2:yC(1.301),stroke:'#000','stroke-width':2,'stroke-dasharray':'9 6'},'pvalue-threshold');
  volcanoXTicks.forEach(v=>{
    mk(g,'line',{x1:xC(v),x2:xC(v),y1:2041,y2:2048,stroke:'#333','stroke-width':2},'x-tick');
    mk(g,'text',{x:xC(v)+(v<0?-3:3),y:2081,'text-anchor':'middle','font-size':29},'x-tick-label',v<0?'-'+Math.abs(v):String(v));
  });
  volcanoYTicks.forEach(v=>{
    mk(g,'line',{x1:197.5,x2:190,y1:yC(v),y2:yC(v),stroke:'#333','stroke-width':2},'y-tick');
    mk(g,'text',{x:185,y:yC(v)+9,'text-anchor':'end','font-size':29},'y-tick-label',String(v));
  });
  mk(g,'text',{x:778,y:2117,'text-anchor':'middle','font-size':32},'x-axis-title','log2(FoldChange)');
  mk(g,'text',{transform:'translate(130,1585) rotate(-90)','text-anchor':'middle','font-size':32},'y-axis-title','−log10(pvalue)');
  mk(g,'circle',{cx:1305,cy:1214,r:5,fill:'#ff0f14'},'legend-marker-up');
  mk(g,'circle',{cx:1305,cy:1260,r:5,fill:'#0047a3'},'legend-marker-down');
  mk(g,'text',{x:1322,y:1222,'font-size':30,style:'font-family:"Liberation Sans","Noto Sans CJK SC",sans-serif;white-space:pre'},'legend-label-up','Up \u00a0\u00a0（557）');
  mk(g,'text',{x:1322,y:1268,'font-size':30,style:'font-family:"Liberation Sans","Noto Sans CJK SC",sans-serif;white-space:pre'},'legend-label-down','Down \u00a0\u00a0（92）');
})();

/* ---------- Panel D ---------- */
(function(){
  const g=document.getElementById('panelD');
  const x0=1856.7,y0=1202.7,cw=145.5,rh=12.8;
  const cx=i=>x0+(i+.5)*cw, ry=i=>y0+(i+.5)*rh;
  const groupColor={CP:'#00b7bc',HSP:'#ff8880'};
  geneGroups.forEach((k,i)=>{
    mk(g,'rect',{x:x0+i*cw,y:1182.7,width:cw+.5,height:15.6,fill:groupColor[k]},'column-annotation');
  });
  geneZ.forEach((row,r)=>row.forEach((v,c)=>{
    mk(g,'rect',{x:x0+c*cw,y:y0+r*rh,width:cw+.3,height:rh+.3,fill:scaleColor(geneScale,v)},'heatmap-cell');
  }));
  dendro(g,geneColTree,cx,(p,h)=>[p,1181.6-h],'#111',2.5,'column-dendrogram-branch');
  dendro(g,geneRowTree,ry,(p,h)=>[x0-h/1.3067,p],'#111',2,'row-dendrogram-branch');
  geneSamples.forEach((s,i)=>{
    mk(g,'text',{transform:'translate('+(cx(i)-5)+',2117) rotate(90)','font-size':32},'column-label',s);
  });
  const yBar=v=>1205+(2-v)*61.9;
  const steps=[];
  for(let v=2.04;v>-1.62;v-=0.06){steps.push(v);}
  steps.forEach(v=>{
    mk(g,'rect',{x:2737,y:yBar(v),width:15,height:0.06*61.9+.6,fill:scaleColor(geneScale,v)},'colorbar-segment');
  });
  geneBarValues.forEach((v,i)=>{
    mk(g,'text',{x:2758,y:yBar(v)+5,'font-size':16},'colorbar-label',geneBarLabels[i]);
  });
  mk(g,'text',{x:2734,y:1196,'font-size':15,'font-weight':'bold'},'colorbar-title','group');
  mk(g,'text',{x:2795,y:1207,'font-size':15,'font-weight':'bold'},'legend-title','group');
  mk(g,'rect',{x:2794.4,y:1218,width:21.6,height:22,fill:'#00b7bc'},'legend-swatch-cp');
  mk(g,'rect',{x:2794.4,y:1240,width:21.6,height:22,fill:'#ff8880'},'legend-swatch-hsp');
  mk(g,'text',{x:2821,y:1234.5,'font-size':15},'legend-label-cp','CP');
  mk(g,'text',{x:2821,y:1256.5,'font-size':15},'legend-label-hsp','HSP');
})();

/* ---------- Panel E ---------- */
(function(){
  const g=document.getElementById('panelE');
  const yE=v=>2781.5-v*106.1;
  const groups=[
    {vals:goBP,terms:goBPTerms,c:'#009e78',start:297,key:'bp',poly:'285,2782 163.8,3203 460.7,3203 582.5,2782',title:'Biological process',tx:306.5},
    {vals:goCC,terms:goCCTerms,c:'#ec661c',start:631,key:'cc',poly:'618.8,2782 496.3,3203 794.9,3203 915,2782',title:'Cellular component',tx:640},
    {vals:goMF,terms:goMFTerms,c:'#616eab',start:963.4,key:'mf',poly:'951.8,2782 830.5,3203 1127.5,3203 1248,2782',title:'Molecular function',tx:973}];
  groups.forEach(G=>{
    mk(g,'polyline',{points:G.poly,fill:'none',stroke:G.c,'stroke-width':2},'group-bracket-'+G.key);
    G.vals.forEach((v,i)=>{
      const x=G.start+i*30.33;
      mk(g,'rect',{x:x-12.2,y:yE(v),width:24.4,height:yE(0)-yE(v),fill:G.c},'bar-'+G.key);
      mk(g,'line',{x1:x,x2:x,y1:2782,y2:2790,stroke:'#000','stroke-width':2.5},'x-tick');
      mk(g,'text',{transform:'translate('+(x+4.5)+',2800) rotate(-72)','text-anchor':'end','font-size':17.5,fill:G.c},'term-label',G.terms[i]);
    });
    mk(g,'text',{x:G.tx,y:3258,'text-anchor':'middle','font-size':21.5,fill:G.c},'group-title-'+G.key,G.title);
  });
  mk(g,'path',{d:'M266.8 2359V2781.5M259 2781.5H1266',fill:'none',stroke:'#000','stroke-width':3},'axes');
  goTicks.forEach(v=>{
    mk(g,'line',{x1:259,x2:266.8,y1:yE(v),y2:yE(v),stroke:'#000','stroke-width':2.5},'y-tick');
    mk(g,'text',{x:253,y:yE(v)+7.5,'text-anchor':'end','font-size':22},'y-tick-label',v.toFixed(1));
  });
  mk(g,'text',{transform:'translate(212,2570) rotate(-90)','text-anchor':'middle','font-size':27},'y-axis-title','-log10(p-value)');
  [['BP','#009e78',2379.3],['CC','#ec661c',2410],['MF','#616eab',2440]].forEach(e=>{
    mk(g,'rect',{x:1153.8,y:e[2],width:45.2,height:15.2,fill:e[1]},'legend-swatch');
    mk(g,'text',{x:1215.8,y:e[2]+15,'font-size':22},'legend-label',e[0]);
  });
})();

/* ---------- Panel F ---------- */
(function(){
  const g=document.getElementById('panelF');
  const xF=v=>2343.5+(v-.1)*1978.7, yF=i=>2360.6+i*40.15;
  const sizeF=c=>Math.sqrt(144+(c-5)*18.15)/2;
  const clip=mk(document.getElementById('defs'),'clipPath',{id:'keggClip'},'kegg-clip');
  mk(clip,'rect',{x:2278.8,y:2337.6,width:372.2,height:809.4},'kegg-clip-rect');
  keggXMinor.forEach(v=>{
    mk(g,'line',{x1:xF(v),x2:xF(v),y1:2337.6,y2:3147,stroke:'#efefef','stroke-width':1.5},'grid-minor');
  });
  keggXTicks.forEach(v=>{
    mk(g,'line',{x1:xF(v),x2:xF(v),y1:2337.6,y2:3147,stroke:'#ebebeb','stroke-width':3},'grid-major');
    mk(g,'line',{x1:xF(v),x2:xF(v),y1:3147,y2:3152,stroke:'#333','stroke-width':2.5},'x-tick');
    mk(g,'text',{x:xF(v),y:3173,'text-anchor':'middle','font-size':22},'x-tick-label',v.toFixed(2));
  });
  keggTerms.forEach((t,i)=>{
    mk(g,'line',{x1:2278.8,x2:2651,y1:yF(i),y2:yF(i),stroke:'#ebebeb','stroke-width':3},'grid-row');
    mk(g,'line',{x1:2272,x2:2278.8,y1:yF(i),y2:yF(i),stroke:'#333','stroke-width':3},'y-tick');
    mk(g,'text',{x:2267,y:yF(i)+7,'text-anchor':'end','font-size':22},'pathway-label',t);
  });
  keggRatio.forEach((v,i)=>{
    mk(g,'circle',{cx:xF(v),cy:yF(i),r:sizeF(keggCount[i]),fill:scaleColor(keggPScale,keggP[i])},'pathway-dot');
  });
  mk(g,'rect',{x:2278.8,y:2337.6,width:372.2,height:809.4,fill:'none',stroke:'#333','stroke-width':2.5},'plot-frame');
  mk(g,'text',{x:2464.5,y:3204,'text-anchor':'middle','font-size':30.5},'x-axis-title','Gene ratio');
  mk(g,'text',{x:2687.6,y:2514,'font-size':21.5},'colorbar-title','pvalue');
  const lg=mk(document.getElementById('defs'),'linearGradient',{id:'keggBar',x1:0,y1:1,x2:0,y2:0},'pvalue-gradient');
  keggPScale.forEach(s=>{
    mk(lg,'stop',{offset:s[0]/1.41e-3,'stop-color':s[1]},'gradient-stop');
  });
  mk(g,'rect',{x:2687.6,y:2527,width:38,height:189,fill:'url(#keggBar)'},'pvalue-colorbar');
  const yP=v=>2716.5-v*134600;
  [[1e-3,'1e−03'],[5e-4,'5e−04']].forEach(e=>{
    mk(g,'line',{x1:2687.6,x2:2695,y1:yP(e[0]),y2:yP(e[0]),stroke:'#fff','stroke-width':1.5},'colorbar-tick');
    mk(g,'line',{x1:2718,x2:2725.6,y1:yP(e[0]),y2:yP(e[0]),stroke:'#fff','stroke-width':1.5},'colorbar-tick');
    mk(g,'text',{x:2736.5,y:yP(e[0])+6.5,'font-size':19},'colorbar-label',e[1]);
  });
  mk(g,'text',{x:2687.6,y:2783,'font-size':21.5},'size-legend-title','count');
  keggCountLegend.forEach((c,i)=>{
    const y=2815.6+i*37.9;
    mk(g,'circle',{cx:2706.6,cy:y,r:sizeF(c)+.8,fill:'#000'},'size-legend-dot');
    mk(g,'text',{x:2736.5,y:y+6.5,'font-size':19},'size-legend-label',String(c));
  });
})();
</script>
</body>
</html>
